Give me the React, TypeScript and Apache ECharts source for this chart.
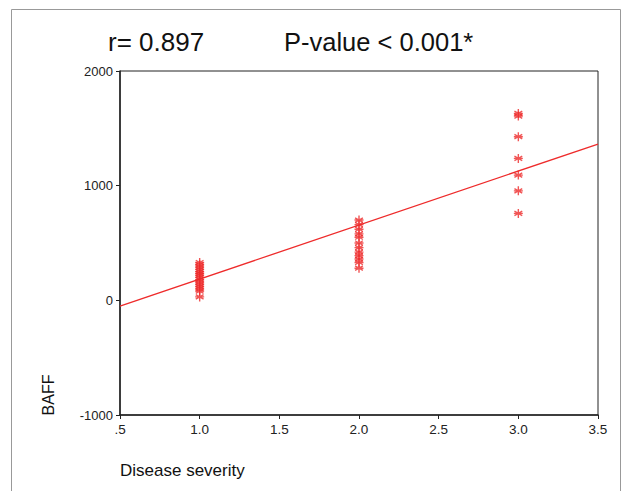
import React, { useEffect, useRef } from "react";
import * as echarts from "echarts";

const severityLevels = [1, 2, 3];
const mildBAFF = [330, 310, 290, 270, 250, 235, 220, 200, 180, 160, 140, 120, 100, 80, 30];
const moderateBAFF = [700, 660, 620, 580, 550, 500, 460, 420, 390, 360, 330, 280];
const severeBAFF = [1630, 1607, 1427, 1238, 1092, 955, 758];
const regressionX = [0.5, 3.5];
const regressionY = [-50, 1363];
const xTicks = [0.5, 1, 1.5, 2, 2.5, 3, 3.5];
const yTicks = [-1000, 0, 1000, 2000];

const RED = "#ee2b2b";
const ASTERISK = "path://M0,-10L0,10M-8.66,-5L8.66,5M-8.66,5L8.66,-5M-10,0L10,0";

export default function App() {
  const ref = useRef<HTMLDivElement>(null);
  useEffect(() => {
    if (!ref.current) return;
    const chart = echarts.init(ref.current, undefined, { renderer: "svg" });
    const groups = [mildBAFF, moderateBAFF, severeBAFF];
    const points: number[][] = [];
    groups.forEach((g, i) => g.forEach((v) => points.push([severityLevels[i], v])));
    chart.setOption({
      animation: false,
      backgroundColor: "#fff",
      textStyle: { fontFamily: "Liberation Sans, Arial, sans-serif" },
      grid: {
        left: 120,
        right: 25,
        top: 71,
        bottom: 76,
        show: true,
        borderColor: "#222",
        borderWidth: 1,
      },
      graphic: [
        {
          type: "rect",
          shape: { x: 11.5, y: 9.5, width: 609, height: 500 },
          style: { fill: "none", stroke: "#999", lineWidth: 1 },
          silent: true,
        },
        {
          type: "text",
          x: 108,
          y: 42,
          style: {
            text: "r= 0.897",
            font: "26px Liberation Sans, Arial, sans-serif",
            fill: "#111",
            textVerticalAlign: "middle",
          },
        },
        {
          type: "text",
          x: 284,
          y: 42,
          style: {
            text: "P-value < 0.001*",
            font: "25.5px Liberation Sans, Arial, sans-serif",
            fill: "#111",
            textVerticalAlign: "middle",
          },
        },
        {
          type: "text",
          x: 48,
          y: 395,
          rotation: Math.PI / 2,
          style: {
            text: "BAFF",
            font: "16px Liberation Sans, Arial, sans-serif",
            fill: "#111",
            textAlign: "center",
            textVerticalAlign: "middle",
          },
        },
        {
          type: "text",
          x: 120,
          y: 470,
          style: {
            text: "Disease severity",
            font: "17px Liberation Sans, Arial, sans-serif",
            fill: "#111",
            textVerticalAlign: "middle",
          },
        },
      ],
      xAxis: {
        type: "value",
        min: xTicks[0],
        max: xTicks[xTicks.length - 1],
        interval: 0.5,
        axisLine: { show: true, onZero: false, lineStyle: { color: "#222", width: 1.5 } },
        axisTick: { show: true, length: 4, lineStyle: { color: "#222" } },
        splitLine: { show: false },
        axisLabel: {
          color: "#222",
          fontSize: 13.5,
          margin: 7,
          formatter: (v: number) => (v === 0.5 ? ".5" : v.toFixed(1)),
        },
      },
      yAxis: {
        type: "value",
        min: yTicks[0],
        max: yTicks[yTicks.length - 1],
        interval: 1000,
        axisLine: { show: true, onZero: false, lineStyle: { color: "#222", width: 1.5 } },
        axisTick: { show: true, length: 4, lineStyle: { color: "#222" } },
        splitLine: { show: false },
        axisLabel: { color: "#222", fontSize: 13, margin: 7, formatter: (v: number) => String(v) },
      },
      series: [
        {
          type: "line",
          data: regressionX.map((x, i) => [x, regressionY[i]]),
          showSymbol: false,
          symbol: "none",
          lineStyle: { color: RED, width: 1.3 },
          silent: true,
          z: 2,
        },
        {
          type: "scatter",
          data: points,
          symbol: ASTERISK,
          symbolSize: 9,
          itemStyle: { color: "transparent", borderColor: RED, borderWidth: 1.4 },
          z: 3,
        },
      ],
    });
    return () => chart.dispose();
  }, []);
  return (
    <div
      ref={ref}
      style={{ position: "fixed", left: 0, top: 0, width: 623, height: 491, background: "#fff" }}
    />
  );
}
